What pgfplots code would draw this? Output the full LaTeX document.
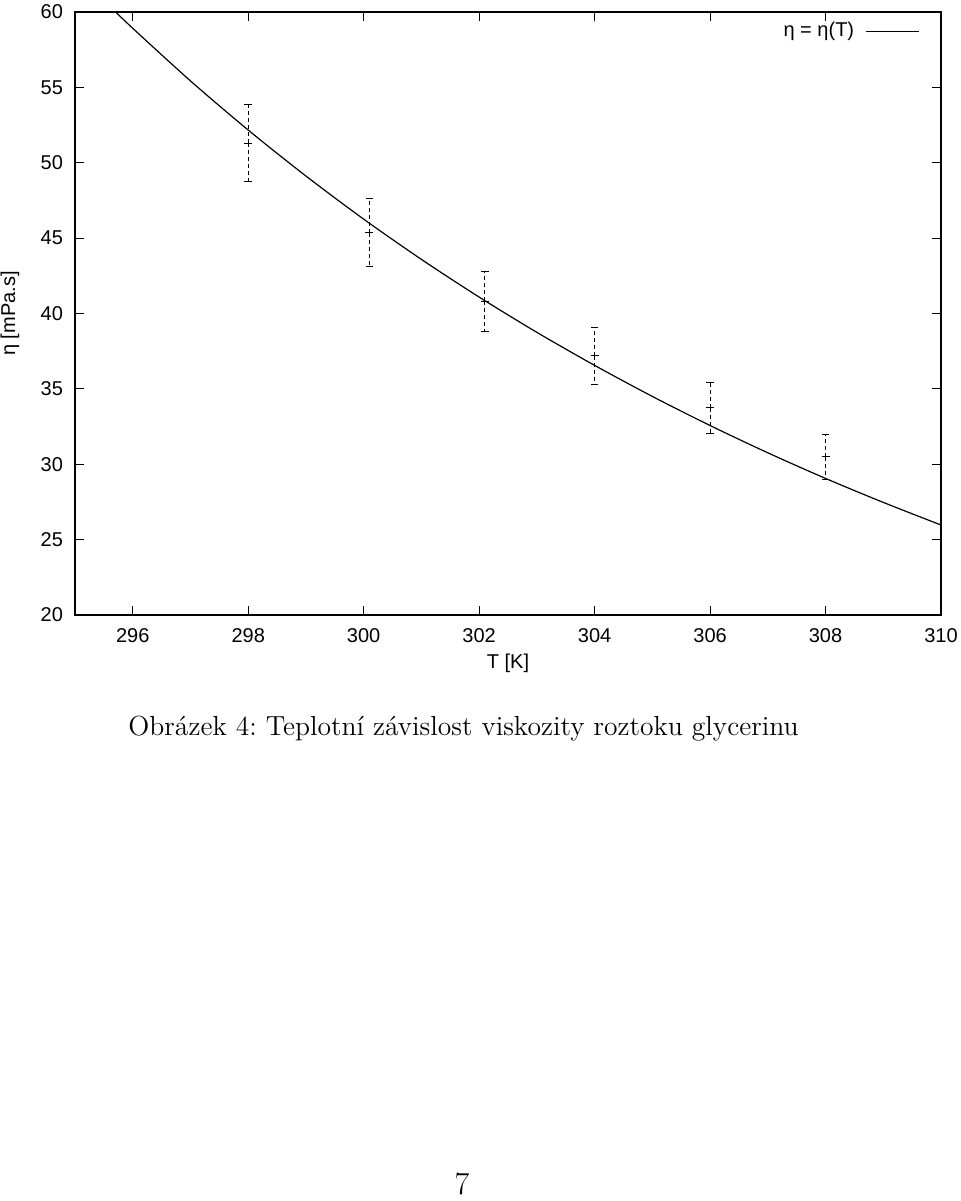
\documentclass[border=0pt]{standalone}
\usepackage{fontspec}
\usepackage{pgfplots}
\pgfplotsset{compat=1.18}
\newfontfamily\gp{Liberation Sans}
\begin{document}
\frenchspacing
\begin{tikzpicture}
\path[use as bounding box] (0,0) rectangle (480pt,600.5pt);
\begin{axis}[
  at={(37.5pt,293pt)}, anchor=south west,
  scale only axis, width=433pt, height=301.5pt,
  xmin=295, xmax=310, ymin=20, ymax=60,
  xtick={296,298,...,310}, ytick={20,25,...,60},
  tick pos=both, tick align=inside,
  major tick length=4.5pt,
  axis line style={line width=0.8pt},
  every tick/.style={black, line width=0.5pt},
  /pgf/number format/assume math mode=true,
  /pgf/number format/1000 sep={},
  tick label style={font=\gp\fontsize{10}{12}\selectfont},
  xticklabel style={yshift=-3pt},
  yticklabel style={xshift=-2.5pt},
  label style={font=\gp\fontsize{10}{12}\selectfont},
  xlabel={T [K]}, ylabel={η [mPa.s]},
  xlabel style={at={(axis description cs:0.5,-0.08)}, anchor=center},
  ylabel style={at={(axis description cs:-0.075,0.5)}, anchor=center},
  legend style={draw=none, fill=none, at={(0.975,0.9685)}, anchor=east,
    font=\gp\fontsize{10}{12}\selectfont, inner sep=0pt},
  legend plot pos=right,
  legend image code/.code={\path (0pt,0pt); \draw[#1] (3.5pt,0pt) -- (30pt,0pt);},
]
\addplot[black, only marks, mark=+, mark size=2pt, mark options={line width=0.5pt},
  error bars/.cd, y dir=both, y explicit,
  error bar style={black, line width=0.5pt, dash pattern=on 2pt off 1.5pt},
  error mark options={rotate=90, mark size=1.9pt, solid, line width=0.5pt}]
  coordinates {
  (298,51.3) +- (0,2.55)
  (300.1,45.35) +- (0,2.25)
  (302.1,40.8) +- (0,2.0)
  (304,37.2) +- (0,1.9)
  (306,33.75) +- (0,1.7)
  (308,30.5) +- (0,1.5)
  };
\addplot[black, line width=0.6pt, smooth, no marks] coordinates {
  (295.7,60.02) (296,58.92) (297,55.43) (298,52.17) (299,49.12) (300,46.26)
  (301,43.59) (302,41.09) (303,38.75) (304,36.56) (305,34.50) (306,32.57)
  (307,30.76) (308,29.06) (309,27.47) (310,25.97)
};
\addlegendentry{η = η(T)}
\end{axis}
\node[anchor=base, font=\fontsize{13.8}{17}\selectfont] at (231.75pt,232.5pt)
  {Obrázek 4: Teplotní závislost viskozity roztoku glycerinu};
\node[anchor=base, font=\fontsize{16}{19}\selectfont] at (231pt,3pt) {7};
\end{tikzpicture}
\end{document}
